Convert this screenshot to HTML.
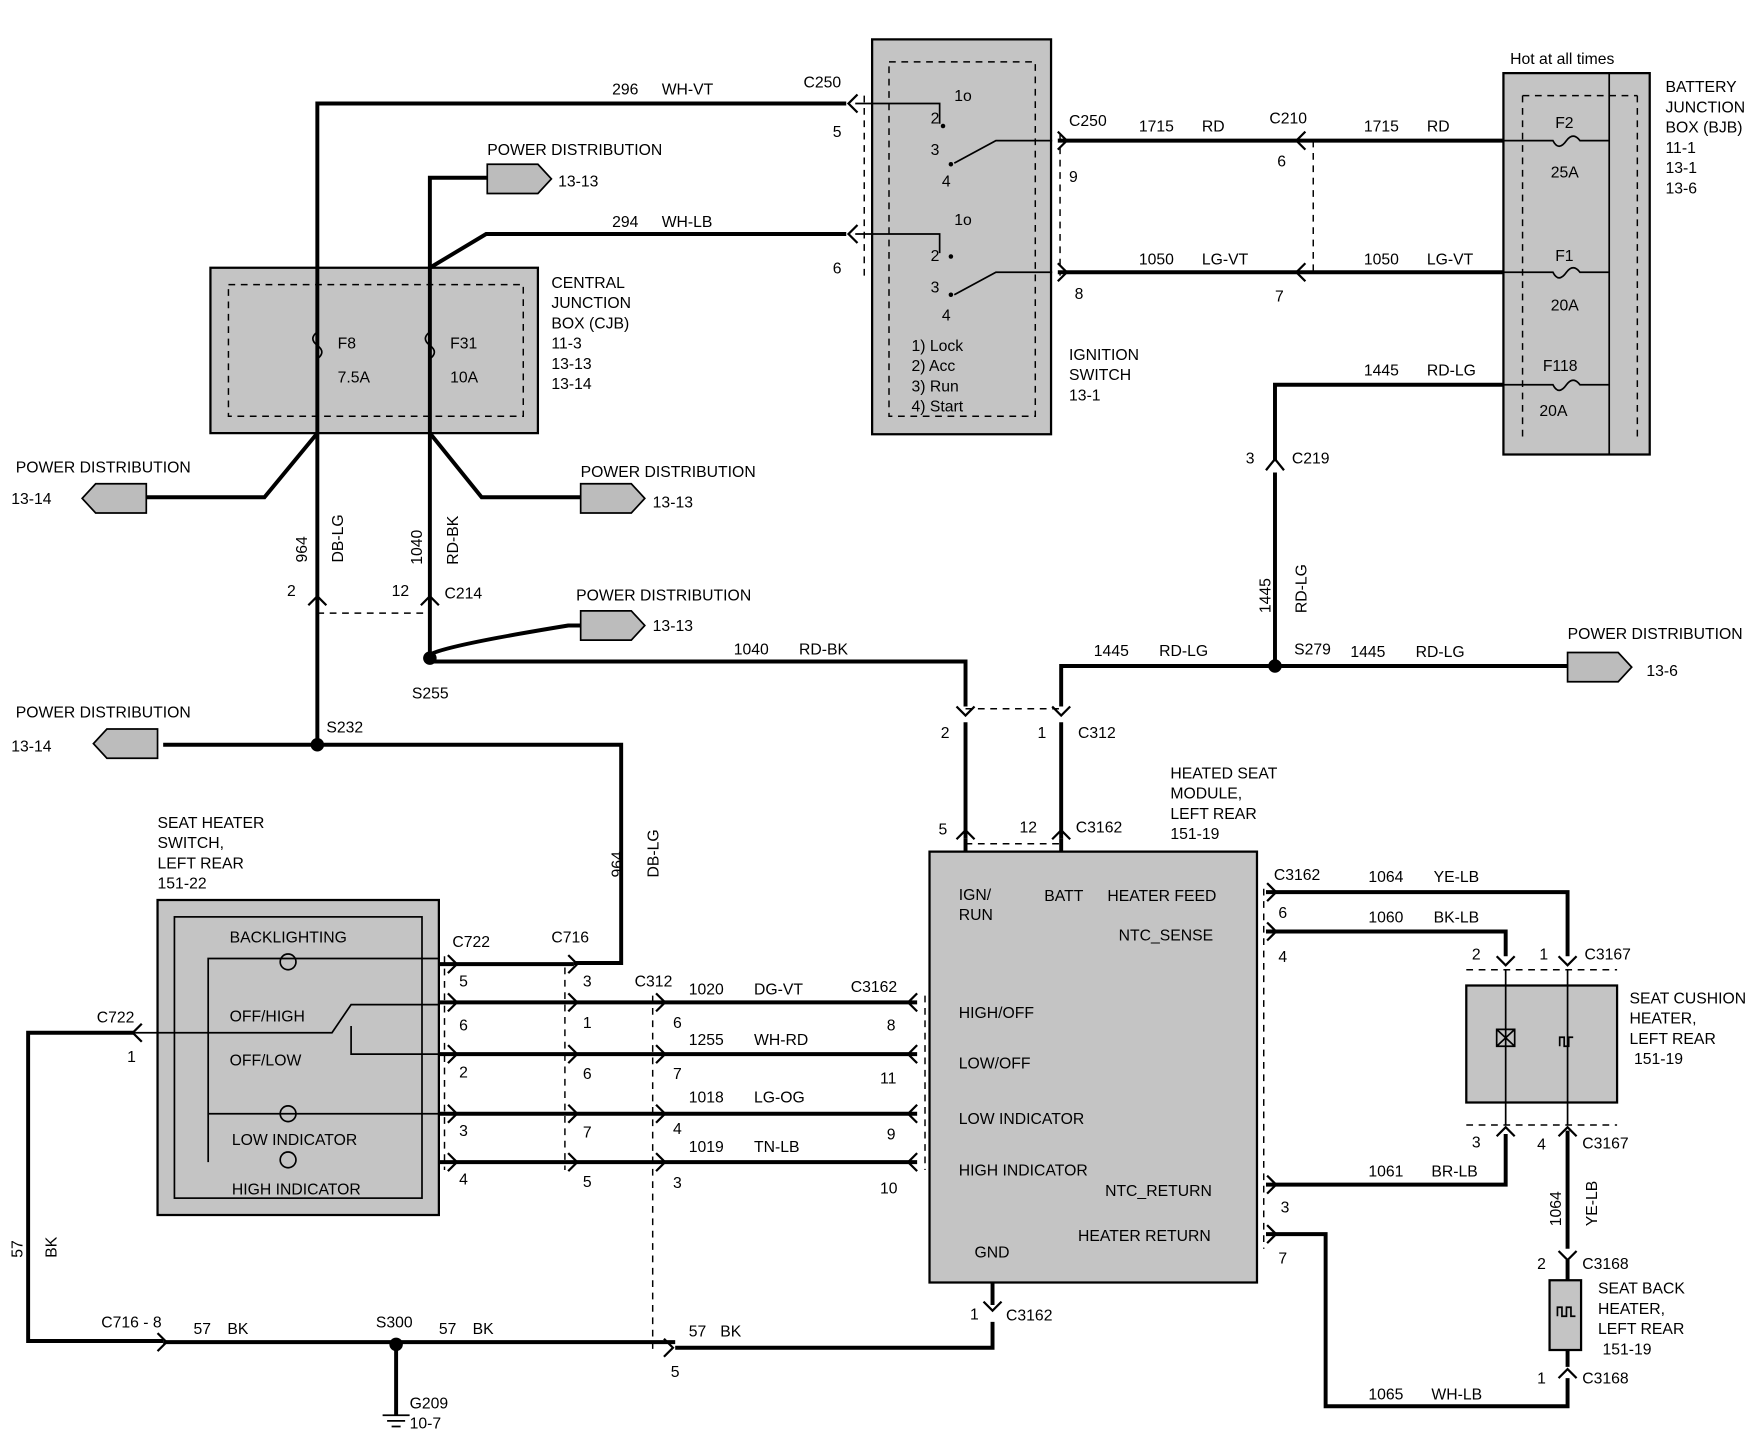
<!DOCTYPE html>
<html><head><meta charset="utf-8"><style>
html,body{margin:0;padding:0;background:#fff;}
svg{display:block;}
text{font-family:"Liberation Sans",Arial,sans-serif;font-size:14px;fill:#000;}
.w{stroke:#000;stroke-width:3.5;fill:none;}
.t{stroke:#000;stroke-width:1.5;fill:none;}
.a{stroke:#000;stroke-width:2;fill:none;}
.d{stroke:#000;stroke-width:1.3;fill:none;stroke-dasharray:6,5;}
.g{fill:#c4c4c4;stroke:#000;stroke-width:2;}
.pd{fill:#bcbcbc;stroke:#000;stroke-width:1.5;}
</style></head><body>
<svg width="1760" height="1440" viewBox="0 0 1564 1280" preserveAspectRatio="none" xmlns="http://www.w3.org/2000/svg">
<!-- boxes -->
<rect class="g" x="187" y="238" width="291" height="147"/>
<rect class="d" x="203" y="253" width="262" height="117"/>
<rect class="g" x="775" y="35" width="159" height="351"/>
<rect class="d" x="790" y="55" width="130" height="315"/>
<rect class="g" x="1336" y="65" width="130" height="339"/>
<line class="t" x1="1430" y1="65" x2="1430" y2="404"/>
<line class="d" x1="1353" y1="85" x2="1353" y2="390"/><line class="d" x1="1455" y1="85" x2="1455" y2="390"/><line class="d" x1="1353" y1="85" x2="1455" y2="85"/>
<rect class="g" x="140" y="800" width="250" height="280"/>
<rect class="t" x="155" y="815" width="220" height="250"/>
<rect class="g" x="826" y="757" width="291" height="383"/>
<rect class="g" x="1303" y="876" width="134" height="104"/>
<rect class="g" x="1377" y="1138" width="28" height="62"/>

<!-- top wires -->
<path class="w" d="M282 385 V92 H752"/>
<path class="w" d="M382 385 V158 H433"/>
<path class="w" d="M382 238 L432 208 H752"/>
<path class="w" d="M940 125 H1336"/><path class="w" d="M940 242 H1336"/>
<line class="d" x1="1167" y1="125" x2="1167" y2="242"/>
<line class="d" x1="768" y1="85" x2="768" y2="245"/><line class="d" x1="942" y1="120" x2="942" y2="245"/>
<path class="w" d="M1336 342 H1133 V410"/>
<path class="w" d="M1133 420 V592"/>
<!-- fuses -->
<path class="t" d="M1336 125 H1380 q5 10 12 0 q6 -8 12 0 H1430"/>
<path class="t" d="M1336 242 H1380 q5 10 12 0 q6 -8 12 0 H1430"/>
<path class="t" d="M1336 342 H1380 q5 10 12 0 q6 -8 12 0 H1430"/>
<path class="t" d="M282 295 q-8 6 0 12 q8 6 0 12"/><path class="t" d="M382 295 q-8 6 0 12 q8 6 0 12"/>
<!-- ign switch internals -->
<path class="t" d="M760 92 H835 V110 M848 145 L885 125 H935 M760 208 H835 V225 M848 262 L885 242 H935"/>
<circle cx="838" cy="112" r="2"/><circle cx="845" cy="146" r="2"/><circle cx="845" cy="228" r="2"/><circle cx="845" cy="262" r="2"/>
<text x="848" y="90" font-size="12">1o</text><text x="827" y="110" font-size="12">2</text><text x="827" y="138" font-size="12">3</text><text x="837" y="166" font-size="12">4</text>
<text x="848" y="200" font-size="12">1o</text><text x="827" y="232" font-size="12">2</text><text x="827" y="260" font-size="12">3</text><text x="837" y="285" font-size="12">4</text>
<text x="810" y="312">1) Lock</text><text x="810" y="330">2) Acc</text><text x="810" y="348">3) Run</text><text x="810" y="366">4) Start</text>
<!-- CJB lower -->
<path class="w" d="M282 385 L235 442 H130"/><path class="w" d="M382 385 L428 442 H516"/>
<path class="w" d="M282 385 V662"/><path class="w" d="M382 385 V582"/>
<line class="d" x1="282" y1="545" x2="382" y2="545"/>
<path class="w" d="M382 582 Q395 574 505 556 H516"/>
<path class="w" d="M382 588 H858 V628"/>
<path class="w" d="M1133 592 H943 V628"/><path class="w" d="M1133 592 H1393"/>
<line class="d" x1="858" y1="630" x2="943" y2="630"/>
<path class="w" d="M858 642 V745"/><path class="w" d="M943 642 V745"/>
<line class="d" x1="858" y1="750" x2="943" y2="750"/>
<path class="w" d="M858 745 V757"/><path class="w" d="M943 745 V757"/>
<path class="w" d="M282 662 H145"/><path class="w" d="M282 662 H552 V856 H510"/>
<circle cx="382" cy="585" r="6"/><circle cx="282" cy="662" r="6"/><circle cx="1133" cy="592" r="6"/><circle cx="352" cy="1195" r="6"/>
<!-- power distribution pentagons -->
<polygon class="pd" points="433,146 478,146 490,159 478,172 433,172"/>
<polygon class="pd" points="516,430 561,430 573,443 561,456 516,456"/>
<polygon class="pd" points="516,543 561,543 573,556 561,569 516,569"/>
<polygon class="pd" points="1393,580 1438,580 1450,593 1438,606 1393,606"/>
<polygon class="pd" points="130,430 85,430 73,443 85,456 130,456"/>
<polygon class="pd" points="140,648 95,648 83,661 95,674 140,674"/>
<!-- harness -->
<path class="w" d="M390 857 H510"/>
<path class="w" d="M390 891 H815"/><path class="w" d="M390 937 H815"/><path class="w" d="M390 990 H815"/><path class="w" d="M390 1033 H815"/>
<line class="d" x1="395" y1="850" x2="395" y2="1040"/><line class="d" x1="502" y1="860" x2="502" y2="1040"/>
<line class="d" x1="580" y1="885" x2="580" y2="1200"/><line class="d" x1="822" y1="885" x2="822" y2="1040"/>
<!-- switch internals -->
<path class="t" d="M185 1033 V852 H390 M185 990 H390 M120 918 H295 L312 893 H390 M312 912 V937 H390"/>
<circle cx="256" cy="855" r="7" class="t" fill="#fff"/><circle cx="256" cy="990" r="7" class="t" fill="#fff"/><circle cx="256" cy="1031" r="7" class="t" fill="#fff"/>
<path class="w" d="M120 918 H25 V1192 H145"/>
<path class="w" d="M145 1193 H600"/><path class="w" d="M600 1198 H882 V1175"/><path class="w" d="M882 1140 V1160"/>
<path class="w" d="M352 1195 V1258"/>
<path class="t" d="M340 1258 H364 M344 1263 H360 M348 1268 H356"/>
<!-- HSM outputs -->
<line class="d" x1="1123" y1="790" x2="1123" y2="1110"/>
<path class="w" d="M1125 793 H1393 V850"/><path class="w" d="M1125 828 H1338 V850"/>
<line class="d" x1="1303" y1="862" x2="1437" y2="862"/><line class="d" x1="1303" y1="1000" x2="1437" y2="1000"/>
<path class="t" d="M1338 862 V1000 M1393 862 V1000"/>
<path class="w" d="M1125 1053 H1338 V1008"/>
<path class="w" d="M1393 1005 V1110"/><path class="w" d="M1393 1120 V1138"/>
<path class="w" d="M1125 1097 H1178 V1250 H1393 V1225"/><path class="w" d="M1393 1215 V1200"/>
<!-- arrows -->
<g class="a">
<path d="M762 84 L754 92 L762 100"/><path d="M762 200 L754 208 L762 216"/>
<path d="M940 117 L948 125 L940 133"/><path d="M940 234 L948 242 L940 250"/>
<path d="M1160 117 L1152 125 L1160 133"/><path d="M1160 234 L1152 242 L1160 250"/>
<path d="M1125 418 L1133 408 L1141 418"/>
<path d="M274 538 L282 530 L290 538"/><path d="M374 538 L382 530 L390 538"/>
<path d="M850 628 L858 636 L866 628"/><path d="M935 628 L943 636 L951 628"/>
<path d="M850 746 L858 738 L866 746"/><path d="M935 746 L943 738 L951 746"/>
<path d="M126 910 L118 918 L126 926"/>
<path d="M398 849 L406 857 L398 865"/><path d="M398 883 L406 891 L398 899"/><path d="M398 929 L406 937 L398 945"/><path d="M398 982 L406 990 L398 998"/><path d="M398 1025 L406 1033 L398 1041"/>
<path d="M505 849 L513 857 L505 865"/><path d="M505 883 L513 891 L505 899"/><path d="M505 929 L513 937 L505 945"/><path d="M505 982 L513 990 L505 998"/><path d="M505 1025 L513 1033 L505 1041"/>
<path d="M583 883 L591 891 L583 899"/><path d="M583 929 L591 937 L583 945"/><path d="M583 982 L591 990 L583 998"/><path d="M583 1025 L591 1033 L583 1041"/>
<path d="M815 883 L807 891 L815 899"/><path d="M815 929 L807 937 L815 945"/><path d="M815 982 L807 990 L815 998"/><path d="M815 1025 L807 1033 L815 1041"/>
<path d="M1126 785 L1134 793 L1126 801"/><path d="M1126 820 L1134 828 L1126 836"/><path d="M1126 1045 L1134 1053 L1126 1061"/><path d="M1126 1089 L1134 1097 L1126 1105"/>
<path d="M1385 850 L1393 858 L1401 850"/><path d="M1330 850 L1338 858 L1346 850"/>
<path d="M1330 1010 L1338 1002 L1346 1010"/><path d="M1385 1010 L1393 1002 L1401 1010"/>
<path d="M1385 1112 L1393 1120 L1401 1112"/><path d="M1385 1225 L1393 1217 L1401 1225"/>
<path d="M874 1157 L882 1165 L890 1157"/>
<path d="M140 1185 L148 1193 L140 1201"/><path d="M590 1190 L598 1198 L590 1206"/>
</g>
<!-- heater symbols -->
<path class="t" d="M1330 930 L1346 915 M1330 915 L1346 930 M1330 915 H1346 V930 H1330 Z"/>
<path class="t" d="M1386 930 v-8 h4 v8 h4 v-8 h4"/>
<path class="t" d="M1384 1170 v-8 h4 v8 h4 v-8 h4 v8 h4"/>
<!-- text -->
<text x="544" y="84">296</text><text x="588" y="84">WH-VT</text><text x="714" y="78">C250</text><text x="740" y="122">5</text>
<text x="433" y="138">POWER DISTRIBUTION</text><text x="496" y="166">13-13</text>
<text x="544" y="202">294</text><text x="588" y="202">WH-LB</text><text x="740" y="243">6</text>
<text x="950" y="112">C250</text><text x="1012" y="117">1715</text><text x="1068" y="117">RD</text><text x="1128" y="110">C210</text><text x="1135" y="148">6</text><text x="1212" y="117">1715</text><text x="1268" y="117">RD</text>
<text x="950" y="162">9</text><text x="1012" y="235">1050</text><text x="1068" y="235">LG-VT</text><text x="1212" y="235">1050</text><text x="1268" y="235">LG-VT</text><text x="955" y="266">8</text><text x="1133" y="268">7</text>
<text x="1342" y="57">Hot at all times</text>
<text x="1382" y="114">F2</text><text x="1378" y="158">25A</text><text x="1382" y="232">F1</text><text x="1378" y="276">20A</text><text x="1371" y="330">F118</text><text x="1368" y="370">20A</text>
<text x="1480" y="82">BATTERY</text><text x="1480" y="100">JUNCTION</text><text x="1480" y="118">BOX (BJB)</text><text x="1480" y="136">11-1</text><text x="1480" y="154">13-1</text><text x="1480" y="172">13-6</text>
<text x="1212" y="334">1445</text><text x="1268" y="334">RD-LG</text>
<text x="950" y="320">IGNITION</text><text x="950" y="338">SWITCH</text><text x="950" y="356">13-1</text>
<text x="490" y="256">CENTRAL</text><text x="490" y="274">JUNCTION</text><text x="490" y="292">BOX (CJB)</text><text x="490" y="310">11-3</text><text x="490" y="328">13-13</text><text x="490" y="346">13-14</text>
<text x="300" y="310">F8</text><text x="400" y="310">F31</text><text x="300" y="340">7.5A</text><text x="400" y="340">10A</text>
<text x="14" y="420">POWER DISTRIBUTION</text><text x="10" y="448">13-14</text>
<text x="516" y="424">POWER DISTRIBUTION</text><text x="580" y="451">13-13</text>
<text x="512" y="534">POWER DISTRIBUTION</text><text x="580" y="561">13-13</text>
<text x="14" y="638">POWER DISTRIBUTION</text><text x="10" y="668">13-14</text>
<text x="1393" y="568">POWER DISTRIBUTION</text><text x="1463" y="601">13-6</text>
<text transform="translate(273,500) rotate(-90)">964</text><text transform="translate(305,500) rotate(-90)">DB-LG</text>
<text transform="translate(375,502) rotate(-90)">1040</text><text transform="translate(407,502) rotate(-90)">RD-BK</text>
<text transform="translate(1129,545) rotate(-90)">1445</text><text transform="translate(1161,545) rotate(-90)">RD-LG</text>
<text transform="translate(553,780) rotate(-90)">964</text><text transform="translate(585,780) rotate(-90)">DB-LG</text>
<text transform="translate(20,1118) rotate(-90)">57</text><text transform="translate(50,1118) rotate(-90)">BK</text>
<text transform="translate(1387,1090) rotate(-90)">1064</text><text transform="translate(1419,1090) rotate(-90)">YE-LB</text>
<text x="255" y="530">2</text><text x="348" y="530">12</text><text x="395" y="532">C214</text>
<text x="1107" y="412">3</text><text x="1148" y="412">C219</text>
<text x="366" y="621">S255</text><text x="652" y="582">1040</text><text x="710" y="582">RD-BK</text>
<text x="972" y="583">1445</text><text x="1030" y="583">RD-LG</text><text x="1150" y="582">S279</text><text x="1200" y="584">1445</text><text x="1258" y="584">RD-LG</text>
<text x="290" y="651">S232</text>
<text x="836" y="656">2</text><text x="922" y="656">1</text><text x="958" y="656">C312</text>
<text x="834" y="742">5</text><text x="906" y="740">12</text><text x="956" y="740">C3162</text>
<text x="1040" y="692">HEATED SEAT</text><text x="1040" y="710">MODULE,</text><text x="1040" y="728">LEFT REAR</text><text x="1040" y="746">151-19</text>
<text x="140" y="736">SEAT HEATER</text><text x="140" y="754">SWITCH,</text><text x="140" y="772">LEFT REAR</text><text x="140" y="790">151-22</text>
<text x="204" y="838">BACKLIGHTING</text><text x="204" y="908">OFF/HIGH</text><text x="204" y="947">OFF/LOW</text><text x="206" y="1018">LOW INDICATOR</text><text x="206" y="1062">HIGH INDICATOR</text>
<text x="86" y="909">C722</text><text x="113" y="944">1</text>
<text x="402" y="842">C722</text><text x="490" y="838">C716</text><text x="564" y="877">C312</text>
<text x="408" y="877">5</text><text x="408" y="916">6</text><text x="408" y="958">2</text><text x="408" y="1010">3</text><text x="408" y="1053">4</text>
<text x="518" y="877">3</text><text x="518" y="914">1</text><text x="518" y="959">6</text><text x="518" y="1011">7</text><text x="518" y="1055">5</text>
<text x="598" y="914">6</text><text x="598" y="959">7</text><text x="598" y="1008">4</text><text x="598" y="1056">3</text>
<text x="612" y="884">1020</text><text x="670" y="884">DG-VT</text><text x="756" y="882">C3162</text><text x="788" y="916">8</text>
<text x="612" y="929">1255</text><text x="670" y="929">WH-RD</text><text x="782" y="963">11</text>
<text x="612" y="980">1018</text><text x="670" y="980">LG-OG</text><text x="788" y="1013">9</text>
<text x="612" y="1024">1019</text><text x="670" y="1024">TN-LB</text><text x="782" y="1061">10</text>
<text x="852" y="800">IGN/</text><text x="852" y="818">RUN</text><text x="928" y="801">BATT</text><text x="984" y="801">HEATER FEED</text><text x="994" y="836">NTC_SENSE</text>
<text x="852" y="905">HIGH/OFF</text><text x="852" y="950">LOW/OFF</text><text x="852" y="999">LOW INDICATOR</text><text x="852" y="1045">HIGH INDICATOR</text>
<text x="982" y="1063">NTC_RETURN</text><text x="958" y="1103">HEATER RETURN</text><text x="866" y="1118">GND</text>
<text x="1132" y="782">C3162</text><text x="1136" y="816">6</text><text x="1136" y="855">4</text><text x="1138" y="1078">3</text><text x="1136" y="1123">7</text>
<text x="1216" y="784">1064</text><text x="1274" y="784">YE-LB</text><text x="1216" y="820">1060</text><text x="1274" y="820">BK-LB</text>
<text x="1308" y="853">2</text><text x="1368" y="853">1</text><text x="1408" y="853">C3167</text>
<text x="1448" y="892">SEAT CUSHION</text><text x="1448" y="910">HEATER,</text><text x="1448" y="928">LEFT REAR</text><text x="1452" y="946">151-19</text>
<text x="1216" y="1046">1061</text><text x="1272" y="1046">BR-LB</text>
<text x="1308" y="1020">3</text><text x="1366" y="1022">4</text><text x="1406" y="1021">C3167</text>
<text x="1366" y="1128">2</text><text x="1406" y="1128">C3168</text>
<text x="1420" y="1150">SEAT BACK</text><text x="1420" y="1168">HEATER,</text><text x="1420" y="1186">LEFT REAR</text><text x="1424" y="1204">151-19</text>
<text x="1366" y="1230">1</text><text x="1406" y="1230">C3168</text>
<text x="1216" y="1244">1065</text><text x="1272" y="1244">WH-LB</text>
<text x="862" y="1173">1</text><text x="894" y="1174">C3162</text>
<text x="90" y="1180">C716 - 8</text><text x="172" y="1186">57</text><text x="202" y="1186">BK</text>
<text x="334" y="1180">S300</text><text x="390" y="1186">57</text><text x="420" y="1186">BK</text>
<text x="612" y="1188">57</text><text x="640" y="1188">BK</text><text x="596" y="1224">5</text>
<text x="364" y="1252">G209</text><text x="364" y="1270">10-7</text>
</svg>
</body></html>
